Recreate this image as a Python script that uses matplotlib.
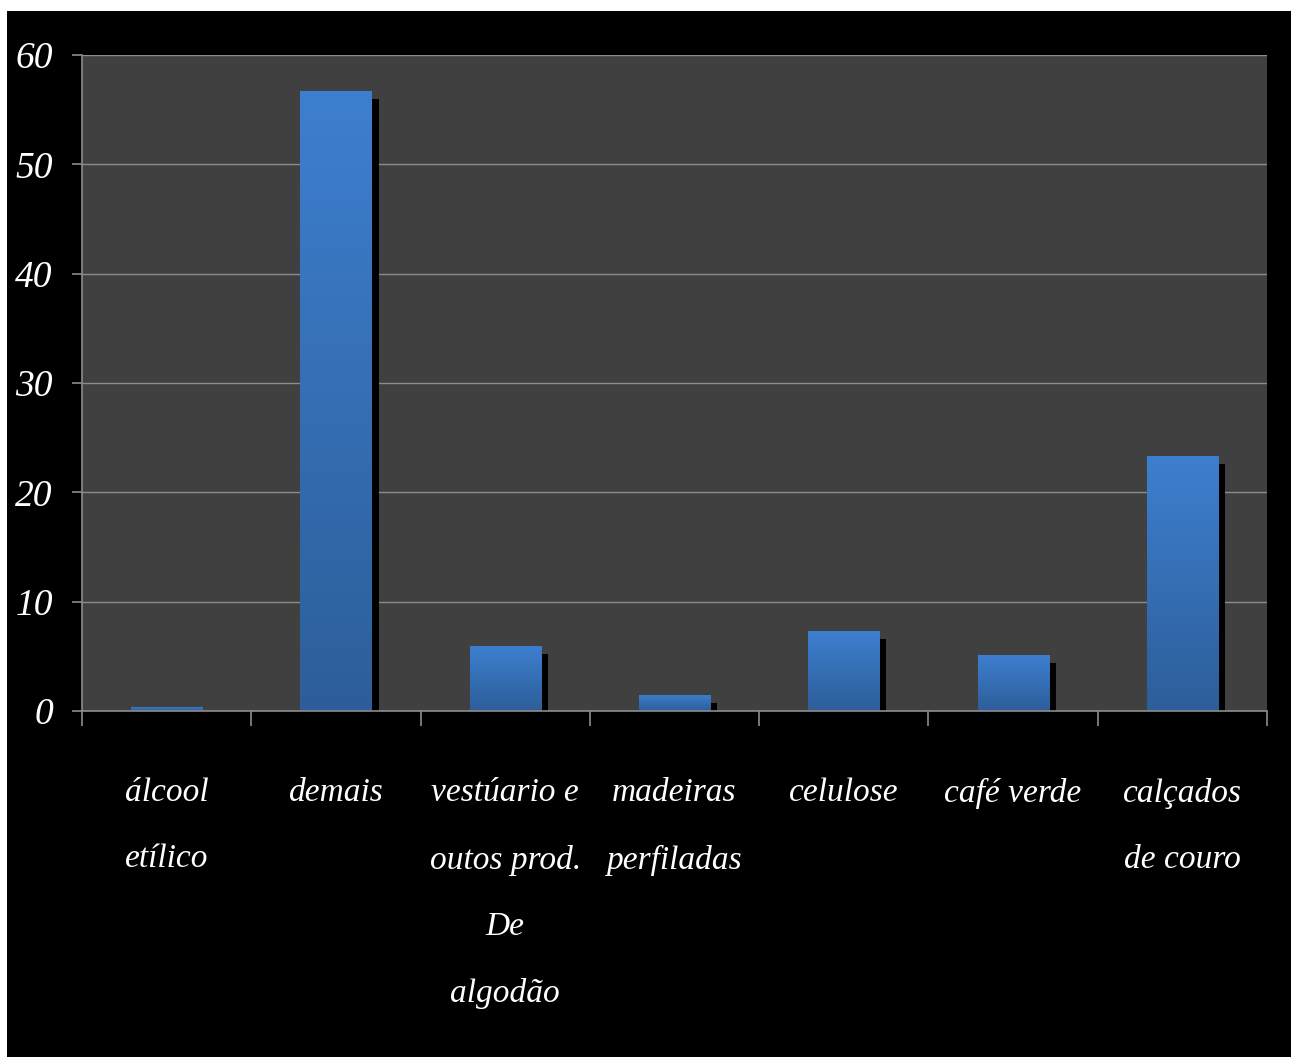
import numpy as np
import matplotlib.pyplot as plt
from matplotlib.patches import Rectangle
from matplotlib.colors import LinearSegmentedColormap

# export share by product (%)
categories = ['álcool\netílico', 'demais', 'vestúario e\noutos prod.\nDe\nalgodão',
              'madeiras\nperfiladas', 'celulose', 'café verde', 'calçados\nde couro']
values = [0.4, 56.7, 5.9, 1.5, 7.3, 5.1, 23.3]
yticks = [0, 10, 20, 30, 40, 50, 60]

plt.rcParams['font.family'] = ['Liberation Serif', 'DejaVu Serif']

fig = plt.figure(figsize=(12.91, 10.57), dpi=100, facecolor='white')
# black frame, leaving a thin white strip on top and left
fig.patches.append(Rectangle((7 / 1291, 0), 1, 1 - 11 / 1057, transform=fig.transFigure,
                             facecolor='black', edgecolor='none', zorder=-1))

ax = fig.add_axes([82 / 1291, 1 - 711 / 1057, (1267 - 82) / 1291, (711 - 55) / 1057])
ax.set_facecolor('#404040')

x = np.arange(len(values))
w = 0.42
dx = 0.042   # shadow offset right
dy = 0.73    # shadow offset down

# drop shadows
ax.bar(x + dx, np.array(values) - dy, width=w, color='black', zorder=2)

# blue bars with vertical gradient
cmap = LinearSegmentedColormap.from_list('blu', ['#2d5e99', '#3d7fcf'])
grad = np.linspace(0, 1, 256).reshape(-1, 1)
bars = ax.bar(x, values, width=w, color='#3a78c4', zorder=3)
for b in bars:
    im = ax.imshow(grad, cmap=cmap, origin='lower', aspect='auto', zorder=3.5,
                   extent=[b.get_x(), b.get_x() + b.get_width(), 0, b.get_height()])
    im.set_clip_path(b)

ax.set_xlim(-0.5, len(values) - 0.5)
ax.set_ylim(0, 60)
ax.set_yticks(yticks)
ax.yaxis.grid(True, color='#8c8c8c', linewidth=1)
ax.set_axisbelow(True)

for s in ['top', 'right']:
    ax.spines[s].set_visible(False)
for s in ['left', 'bottom']:
    ax.spines[s].set_color('#8c8c8c')
    ax.spines[s].set_linewidth(1.2)
    ax.spines[s].set_zorder(5)

ax.set_xticks(x)
ax.set_xticklabels(categories, color='white', fontsize=24, style='italic',
                   linespacing=2.52)
ax.tick_params(axis='x', which='major', length=0, pad=48)
ax.set_xticks(np.arange(len(values) + 1) - 0.5, minor=True)
ax.tick_params(axis='x', which='minor', length=11, color='#8c8c8c', width=1.2)
ax.tick_params(axis='y', length=7, color='#8c8c8c', width=1.2, pad=14,
               labelcolor='white', labelsize=27)
for t in ax.get_yticklabels():
    t.set_style('italic')

fig.savefig('out.png', dpi=100, facecolor=fig.get_facecolor())
